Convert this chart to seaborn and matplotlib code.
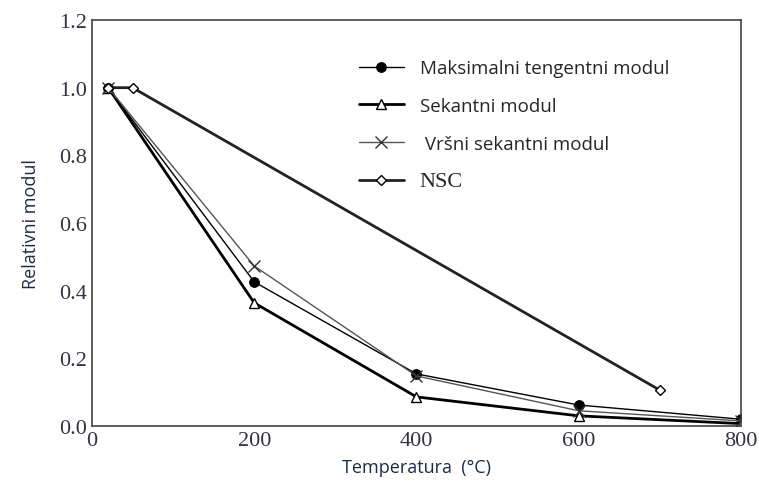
"""plot.py - relative modulus vs temperature"""

import matplotlib

matplotlib.use("Agg")
import matplotlib.pyplot as plt
import pandas as pd
import seaborn as sns

# data
temp_main = [20, 200, 400, 600, 800]
maksimalni = [1.0, 0.426, 0.154, 0.062, 0.020]
sekantni = [1.0, 0.364, 0.086, 0.030, 0.007]
vrsni = [1.0, 0.473, 0.148, 0.045, 0.015]
temp_nsc = [20, 50, 700]
nsc = [1.0, 1.0, 0.106]

labels = ["Maksimalni tengentni modul", "Sekantni modul", " Vršni sekantni modul", "NSC"]
x_ticks = [0, 200, 400, 600, 800]
y_ticks = [0.0, 0.2, 0.4, 0.6, 0.8, 1.0, 1.2]


def main():
    sns.set_theme(style="white")
    plt.rcParams["font.family"] = ["Liberation Serif", "DejaVu Serif"]

    fig = plt.figure(figsize=(7.59, 4.89), dpi=100)
    ax = fig.add_axes([0.1212, 0.1268, 0.855, 0.8302])

    series = [
        (temp_main, maksimalni, dict(color="black", lw=1.0, marker="o", ms=7,
                                     mfc="black", mec="black")),
        (temp_main, sekantni, dict(color="black", lw=2.0, marker="^", ms=7,
                                   mfc="white", mec="black", mew=1.0)),
        (temp_main, vrsni, dict(color="#555555", lw=1.0, marker="x", ms=8,
                                mec="#333333", mew=1.0)),
        (temp_nsc, nsc, dict(color="#222222", lw=2.0, marker="D", ms=5,
                             mfc="white", mec="black", mew=1.0)),
    ]
    for (xs, ys, style), lab in zip(series, labels):
        df = pd.DataFrame({"temp": xs, "val": ys})
        sns.lineplot(data=df, x="temp", y="val", ax=ax, label=lab, **style)

    ax.set_xlim(0, 800)
    ax.set_ylim(0, 1.2)
    ax.set_xticks(x_ticks)
    ax.set_yticks(y_ticks)
    ax.set_yticklabels([f"{v:.1f}" for v in y_ticks])
    ax.tick_params(direction="in", length=6, width=1, colors="#333333",
                   labelsize=16, labelcolor="#333344")
    for sp in ax.spines.values():
        sp.set_color("#444444")
        sp.set_linewidth(1.2)

    ax.set_xlabel("Temperatura  (°C)", fontsize=13, family=["Open Sans", "DejaVu Sans"],
                  color="#1f2a44", labelpad=6)
    ax.set_ylabel("Relativni modul", fontsize=13, family=["Open Sans", "DejaVu Sans"],
                  color="#1f2a44", labelpad=14)

    leg = ax.legend(loc="upper left", bbox_to_anchor=(0.385, 0.945), frameon=False,
                    handlelength=2.4, handletextpad=0.85, labelspacing=1.05,
                    prop={"family": ["Open Sans", "DejaVu Sans"], "size": 13.5})
    leg.get_texts()[3].set_fontfamily(["Liberation Serif", "DejaVu Serif"])
    leg.get_texts()[3].set_fontsize(16)

    fig.savefig("out.png", dpi=100)


if __name__ == "__main__":
    main()
